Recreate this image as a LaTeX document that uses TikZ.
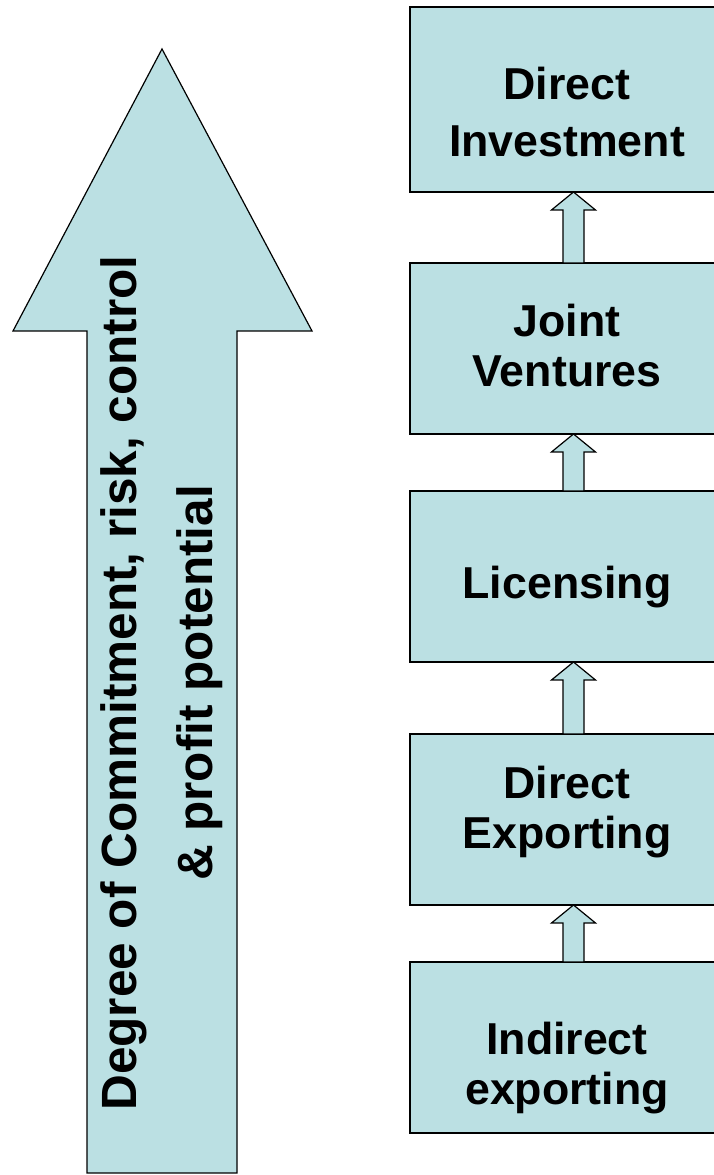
\documentclass[tikz,border=0pt]{standalone}
\usepackage{fontspec}
\setmainfont{Liberation Sans}
\usetikzlibrary{positioning, calc}
\definecolor{boxfill}{HTML}{BBE0E3}
\tikzset{
    stage/.style={rectangle, draw=black, line width=1.2pt, fill=boxfill, outer sep=0pt, minimum width=314pt, minimum height=171pt, align=center, font=\fontsize{44.7}{50}\selectfont\bfseries},
    bigarrow/.style={draw=black, line width=1.2pt, fill=boxfill, line join=miter},
    uparrow/.style={draw=black, line width=1.2pt, fill=boxfill, line join=miter},
    axislabel/.style={rotate=90, align=center, font=\fontsize{49.5}{76}\selectfont\bfseries}
}
% hollow block arrow from the top of #1 up to the bottom of #2
\newcommand{\stepup}[2]{%
  \path[uparrow] let \p1=($(#1.north)+(6.5pt,0)$), \p2=($(#2.south)+(6.5pt,0)$) in
    (\x1-10.5pt,\y1) -- (\x1-10.5pt,\y2-18pt) -- (\x1-22pt,\y2-18pt) -- (\x2,\y2)
    -- (\x1+22pt,\y2-18pt) -- (\x1+10.5pt,\y2-18pt) -- (\x1+10.5pt,\y1) -- cycle;
}

\begin{document}
\begin{tikzpicture}[x=1pt, y=1pt]
\clip (0,0) rectangle (714,1175);

% Big arrow on the left
\draw[bigarrow] (87,2) -- (87,844) -- (13,844) -- (162,1126) -- (312,844) -- (237,844) -- (237,2) -- cycle;
\node (degree) [axislabel] at (162,492) {Degree of Commitment, risk, control\\\& profit potential};

% Entry modes, top to bottom (text height moves the text inside each box)
\node (direct) [stage, minimum height=185pt, font=\fontsize{44.7}{57}\selectfont\bfseries, text height=115pt] at (567,1075.5) {Direct\\Investment};
\node (joint) [stage, text height=77pt, below=71pt of direct] {Joint\\Ventures};
\node (licensing) [stage, text height=53pt, below=57pt of joint] {Licensing};
\node (exporting) [stage, text height=67pt, below=72pt of licensing] {Direct\\Exporting};
\node (indirect) [stage, text height=124pt, below=57pt of exporting] {Indirect\\exporting};

% Arrows between the boxes
\stepup{indirect}{exporting}
\stepup{exporting}{licensing}
\stepup{licensing}{joint}
\stepup{joint}{direct}

\end{tikzpicture}
\end{document}
